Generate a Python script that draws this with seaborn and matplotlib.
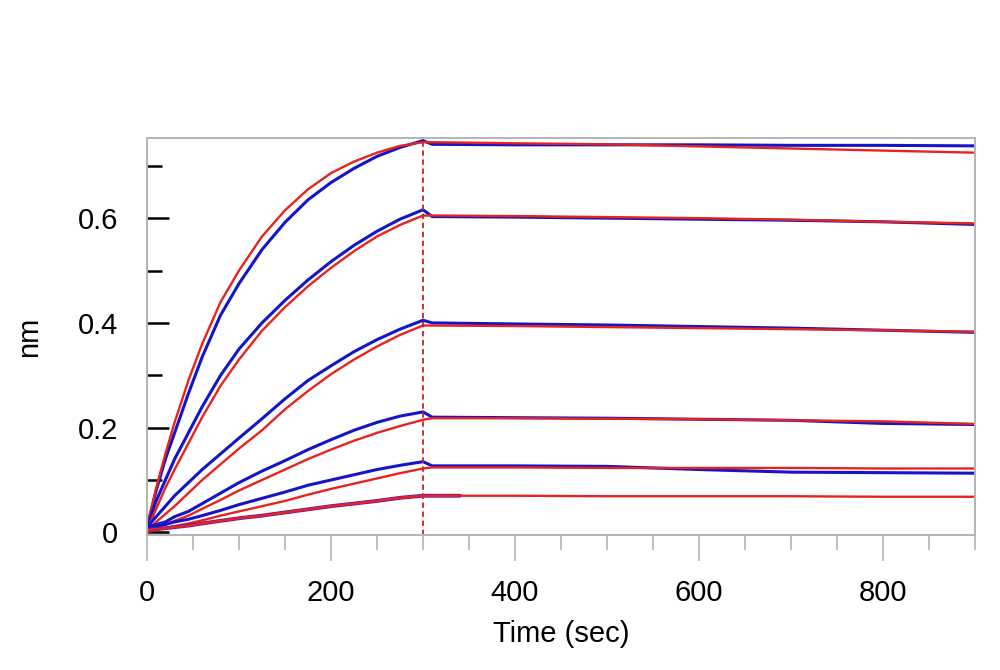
import matplotlib
matplotlib.use("Agg")
import matplotlib.pyplot as plt
from matplotlib.ticker import MultipleLocator
import seaborn as sns
import pandas as pd

# association phase (0-300 s)
t_assoc = [0, 10, 20, 30, 45, 60, 80, 100, 125, 150, 175, 200, 225, 250, 275, 300]
blue1_a = [0.01, 0.08, 0.14, 0.19, 0.265, 0.335, 0.415, 0.475, 0.54, 0.592, 0.635, 0.668, 0.695, 0.718, 0.735, 0.748]
red1_a = [0.01, 0.085, 0.15, 0.21, 0.29, 0.36, 0.44, 0.50, 0.565, 0.615, 0.655, 0.686, 0.708, 0.725, 0.738, 0.745]
blue2_a = [0.01, 0.06, 0.10, 0.14, 0.19, 0.24, 0.30, 0.35, 0.40, 0.443, 0.482, 0.517, 0.548, 0.575, 0.598, 0.616]
red2_a = [0.005, 0.045, 0.085, 0.12, 0.17, 0.22, 0.28, 0.33, 0.385, 0.43, 0.47, 0.505, 0.537, 0.565, 0.587, 0.605]
blue3_a = [0.01, 0.03, 0.05, 0.07, 0.095, 0.12, 0.15, 0.18, 0.217, 0.255, 0.29, 0.318, 0.345, 0.368, 0.388, 0.405]
red3_a = [0.005, 0.02, 0.035, 0.05, 0.075, 0.10, 0.13, 0.16, 0.195, 0.235, 0.27, 0.302, 0.33, 0.355, 0.377, 0.395]
blue4_a = [0.01, 0.015, 0.02, 0.03, 0.04, 0.055, 0.075, 0.095, 0.117, 0.137, 0.158, 0.177, 0.195, 0.21, 0.222, 0.23]
red4_a = [0.005, 0.01, 0.015, 0.022, 0.032, 0.045, 0.062, 0.08, 0.10, 0.12, 0.14, 0.158, 0.175, 0.19, 0.203, 0.215]
blue5_a = [0.01, 0.012, 0.015, 0.02, 0.025, 0.032, 0.042, 0.053, 0.065, 0.077, 0.09, 0.10, 0.11, 0.12, 0.128, 0.135]
red5_a = [0.0, 0.005, 0.008, 0.012, 0.017, 0.023, 0.032, 0.04, 0.05, 0.06, 0.072, 0.083, 0.093, 0.103, 0.113, 0.122]
blue6_a = [0.005, 0.006, 0.008, 0.01, 0.013, 0.017, 0.022, 0.027, 0.032, 0.038, 0.044, 0.05, 0.055, 0.06, 0.066, 0.07]
red6_a = [0.005, 0.006, 0.008, 0.01, 0.013, 0.017, 0.022, 0.027, 0.032, 0.038, 0.044, 0.05, 0.055, 0.06, 0.066, 0.07]

# dissociation phase (300-900 s)
t_diss = [310, 400, 500, 600, 700, 800, 900]
blue1_d = [0.741, 0.740, 0.740, 0.740, 0.739, 0.739, 0.738]
red1_d = [0.745, 0.743, 0.741, 0.737, 0.733, 0.729, 0.725]
blue2_d = [0.603, 0.602, 0.600, 0.598, 0.596, 0.593, 0.588]
red2_d = [0.605, 0.604, 0.602, 0.600, 0.597, 0.593, 0.590]
blue3_d = [0.400, 0.398, 0.396, 0.393, 0.390, 0.386, 0.382]
red3_d = [0.395, 0.394, 0.392, 0.390, 0.388, 0.386, 0.383]
blue4_d = [0.220, 0.219, 0.218, 0.216, 0.214, 0.208, 0.206]
red4_d = [0.218, 0.218, 0.217, 0.216, 0.214, 0.212, 0.207]
blue5_d = [0.127, 0.127, 0.126, 0.120, 0.115, 0.114, 0.113]
red5_d = [0.124, 0.124, 0.123, 0.123, 0.123, 0.122, 0.122]
blue6_d = [0.07]
t6_blue = [340]
red6_d = [0.07, 0.07, 0.069, 0.069, 0.069, 0.068, 0.068]

blue_col = "#1414c8"
red_col = "#e8231e"

sns.set_style("white")
plt.rcParams["font.family"] = ["Liberation Sans", "DejaVu Sans"]
plt.rcParams["text.color"] = "black"
plt.rcParams["axes.labelcolor"] = "black"
plt.rcParams["xtick.color"] = "black"
plt.rcParams["ytick.color"] = "black"

fig = plt.figure(figsize=(10, 6.7), dpi=100)
ax = fig.add_axes([0.147, 0.2015, 0.828, 0.5925])

curves = [
    (blue1_a, blue1_d, red1_a, red1_d),
    (blue2_a, blue2_d, red2_a, red2_d),
    (blue3_a, blue3_d, red3_a, red3_d),
    (blue4_a, blue4_d, red4_a, red4_d),
    (blue5_a, blue5_d, red5_a, red5_d),
]
for b_a, b_d, r_a, r_d in curves:
    df_b = pd.DataFrame({"t": t_assoc + t_diss, "nm": b_a + b_d})
    df_r = pd.DataFrame({"t": t_assoc + t_diss, "nm": r_a + r_d})
    sns.lineplot(data=df_b, x="t", y="nm", color=blue_col, lw=2.2, sort=False, estimator=None, ax=ax)
    sns.lineplot(data=df_r, x="t", y="nm", color=red_col, lw=1.7, sort=False, estimator=None, ax=ax)

# lowest curve: blue only visible briefly past 300 s
sns.lineplot(x=t_assoc + t6_blue, y=blue6_a + blue6_d, color="#6a1aa8", lw=2.8, sort=False, estimator=None, ax=ax)
sns.lineplot(x=t_assoc + t_diss, y=red6_a + red6_d, color=red_col, lw=1.7, sort=False, estimator=None, ax=ax)

ax.axvline(300, color="#c0282a", ls=(0, (3, 2)), lw=1.3)

ax.set_xlim(0, 900)
ax.set_ylim(-0.005, 0.753)

ax.xaxis.set_major_locator(MultipleLocator(200))
ax.xaxis.set_minor_locator(MultipleLocator(50))
ax.yaxis.set_major_locator(MultipleLocator(0.2))
ax.yaxis.set_minor_locator(MultipleLocator(0.1))
ax.set_yticks([0, 0.2, 0.4, 0.6])
ax.set_yticklabels(["0", "0.2", "0.4", "0.6"])

ax.tick_params(bottom=True, left=True, which="both")
ax.tick_params(axis="x", which="major", direction="out", length=19, width=1.2, color="#b4b4b4",
               labelcolor="black", labelsize=21, pad=13)
ax.tick_params(axis="x", which="minor", direction="out", length=11, width=1.2, color="#b4b4b4")
ax.tick_params(axis="y", which="major", direction="in", length=16, width=1.8, color="black",
               labelcolor="black", labelsize=21, pad=21)
ax.tick_params(axis="y", which="minor", direction="in", length=11, width=1.8, color="black")

for s in ax.spines.values():
    s.set_color("#b4b4b4")
    s.set_linewidth(1.4)

ax.set_xlabel("Time (sec)", fontsize=21, labelpad=9)
ax.set_ylabel("nm", fontsize=21, labelpad=25)

fig.savefig("out.png", dpi=100)
